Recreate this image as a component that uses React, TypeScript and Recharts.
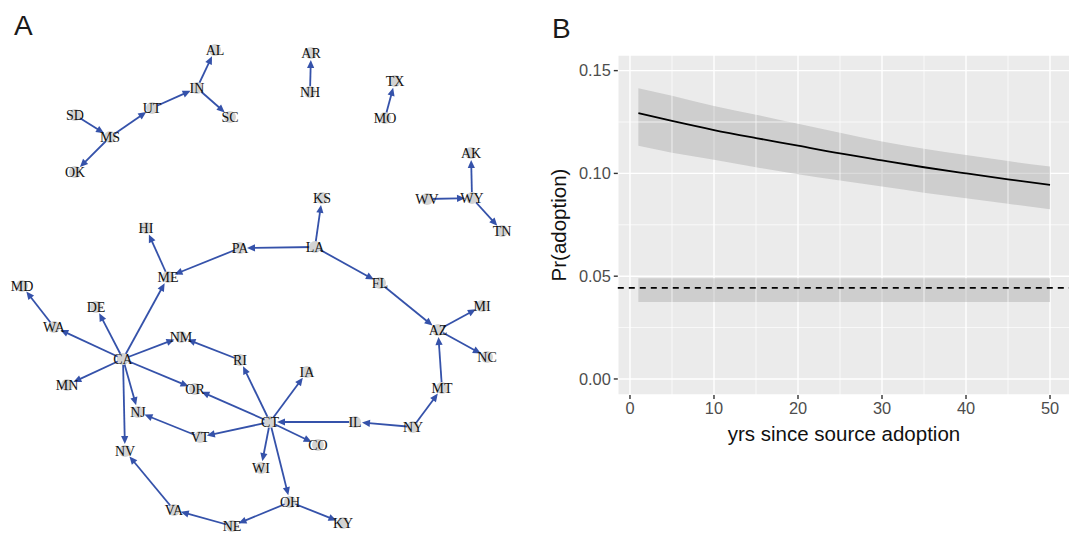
import React from 'react';
import {
  ScatterChart,
  Scatter,
  XAxis,
  YAxis,
  ReferenceLine,
  ReferenceArea,
  ComposedChart,
  Area,
  Line,
  CartesianGrid,
} from 'recharts';

// ---- Panel A: diffusion network (layout coordinates) ----
const states = [
  'AL', 'IN', 'SC', 'UT', 'SD', 'MS', 'OK', 'AR', 'NH', 'TX', 'MO', 'AK', 'WV', 'WY', 'TN', 'KS',
  'LA', 'PA', 'HI', 'ME', 'MD', 'DE', 'WA', 'NM', 'CA', 'RI', 'MN', 'OR', 'IA', 'FL', 'AZ', 'MI',
  'NC', 'MT', 'NY', 'IL', 'CT', 'NJ', 'VT', 'CO', 'WI', 'NV', 'OH', 'VA', 'NE', 'KY',
];
const layoutX = [
  215, 197, 230, 152, 75, 110, 75, 311, 310, 395, 385, 471, 427, 472, 502, 322,
  315, 240, 146, 168, 22, 96, 54, 181, 123, 240, 67, 195, 307, 380, 438, 482,
  487, 442, 413, 355, 270, 138, 200, 318, 261, 125, 290, 174, 232, 343,
];
const layoutY = [
  50, 88, 117, 108, 115, 137, 172, 53, 92, 81, 118, 153, 199, 198, 231, 198,
  247, 248, 228, 277, 286, 307, 327, 337, 359, 360, 385, 389, 372, 283, 330, 306,
  357, 388, 427, 422, 422, 412, 437, 445, 468, 451, 502, 510, 526, 523,
];
// source -> target (arrow points at target)
const edgeFrom = [
  'IN', 'UT', 'IN', 'MS', 'SD', 'MS', 'NH', 'MO', 'WY', 'WV', 'WY', 'LA', 'LA', 'LA', 'FL', 'AZ',
  'AZ', 'MT', 'NY', 'NY', 'IL', 'CT', 'CT', 'CT', 'CT', 'CT', 'CT', 'CT', 'OH', 'OH', 'NE', 'VA',
  'VT', 'RI', 'PA', 'ME', 'CA', 'CA', 'CA', 'WA', 'CA', 'CA', 'CA', 'CA', 'CA',
];
const edgeTo = [
  'AL', 'IN', 'SC', 'UT', 'MS', 'OK', 'AR', 'TX', 'AK', 'WY', 'TN', 'KS', 'PA', 'FL', 'AZ', 'MI',
  'NC', 'AZ', 'MT', 'IL', 'CT', 'IA', 'RI', 'OR', 'VT', 'CO', 'WI', 'OH', 'KY', 'NE', 'VA', 'NV',
  'NJ', 'NM', 'ME', 'HI', 'ME', 'DE', 'WA', 'MD', 'MN', 'NJ', 'NV', 'OR', 'NM',
];

// ---- Panel B: predicted probability of adoption ----
const years = [1, 5, 10, 15, 20, 25, 30, 35, 40, 45, 50];
const fitted = [0.1293, 0.1255, 0.1211, 0.1172, 0.1135, 0.1097, 0.1063, 0.103, 0.1, 0.0971, 0.0944];
const upperCI = [0.1414, 0.1378, 0.1328, 0.1285, 0.1241, 0.1198, 0.1155, 0.112, 0.109, 0.106, 0.1033];
const lowerCI = [0.1134, 0.11, 0.1066, 0.103, 0.0996, 0.0965, 0.0936, 0.0906, 0.0879, 0.0852, 0.0826];
const baseline = 0.0443;
const baselineLow = 0.0375;
const baselineHigh = 0.049;
const xTicks = [0, 10, 20, 30, 40, 50];
const xMinor = [5, 15, 25, 35, 45];
const yTicks = [0, 0.05, 0.1, 0.15];
const yMinor = [0.025, 0.075, 0.125];

const EDGE = '#3552AA';

const nodes = states.map((s, i) => ({ name: s, x: layoutX[i], y: layoutY[i] }));
const nodeByName: Record<string, { x: number; y: number }> = {};
nodes.forEach((n) => (nodeByName[n.name] = n));

const rows = years.map((t, i) => ({ t, fit: fitted[i], band: [lowerCI[i], upperCI[i]] }));

// Edge with an arrowhead that stops just short of the target node
const Arrow = (p: any) => {
  const { x1, y1, x2, y2 } = p;
  const dx = x2 - x1;
  const dy = y2 - y1;
  const len = Math.sqrt(dx * dx + dy * dy) || 1;
  const ux = dx / len;
  const uy = dy / len;
  const tipGap = 7;
  const headLen = 8;
  const headHalf = 3.6;
  const tx = x2 - ux * tipGap;
  const ty = y2 - uy * tipGap;
  const bx = tx - ux * headLen;
  const by = ty - uy * headLen;
  const px = -uy * headHalf;
  const py = ux * headHalf;
  return (
    <g>
      <line x1={x1} y1={y1} x2={bx + ux} y2={by + uy} stroke={EDGE} strokeWidth={1.8} />
      <polygon points={`${tx},${ty} ${bx + px},${by + py} ${bx - px},${by - py}`} fill={EDGE} />
    </g>
  );
};

const NodeDot = (p: any) => <circle cx={p.cx} cy={p.cy} r={6} fill="#D3D3D3" />;
const NodeLabel = (p: any) => (
  <text
    x={p.cx}
    y={p.cy}
    dy="0.36em"
    textAnchor="middle"
    fontFamily="'Liberation Serif', 'Times New Roman', serif"
    fontSize={14}
    fill="#111"
  >
    {p.payload.name}
  </text>
);

export default function App() {
  return (
    <div
      style={{
        position: 'absolute',
        left: 0,
        top: 0,
        width: 1069,
        height: 535,
        overflow: 'hidden',
        background: '#fff',
        fontFamily: "'Liberation Sans', Arial, sans-serif",
      }}
    >
      <div style={{ position: 'absolute', left: 0, top: 0 }}>
        <ScatterChart width={540} height={535} margin={{ top: 0, right: 0, bottom: 0, left: 0 }}>
          <XAxis type="number" dataKey="x" domain={[0, 540]} hide allowDataOverflow />
          <YAxis type="number" dataKey="y" domain={[0, 535]} reversed hide allowDataOverflow />
          <Scatter data={nodes} shape={NodeDot} isAnimationActive={false} />
          {edgeFrom.map((f, i) => {
            const a = nodeByName[f];
            const b = nodeByName[edgeTo[i]];
            return (
              <ReferenceLine
                key={`e${i}`}
                segment={[
                  { x: a.x, y: a.y },
                  { x: b.x, y: b.y },
                ]}
                ifOverflow="visible"
                shape={Arrow}
              />
            );
          })}
          <Scatter data={nodes} shape={NodeLabel} isAnimationActive={false} />
        </ScatterChart>
      </div>

      <div style={{ position: 'absolute', left: 540, top: 0 }}>
        <ComposedChart width={540} height={535} data={rows} margin={{ top: 55, right: 9.4, bottom: 0, left: 0 }}>
          <CartesianGrid fill="#EBEBEB" stroke="#FFFFFF" strokeWidth={1.4} />
          {xMinor.map((v) => (
            <ReferenceLine key={`xm${v}`} x={v} stroke="#FFFFFF" strokeWidth={0.7} />
          ))}
          {yMinor.map((v) => (
            <ReferenceLine key={`ym${v}`} y={v} stroke="#FFFFFF" strokeWidth={0.7} />
          ))}
          <XAxis
            type="number"
            dataKey="t"
            domain={[-1.45, 52.45]}
            ticks={xTicks}
            allowDataOverflow
            height={140}
            axisLine={false}
            tickSize={4}
            tickMargin={3}
            tickLine={{ stroke: '#333', strokeWidth: 1.4 }}
            tick={{ fill: '#4D4D4D', fontSize: 16.4 }}
            interval={0}
          />
          <YAxis
            type="number"
            domain={[-0.0078, 0.1576]}
            ticks={yTicks}
            allowDataOverflow
            width={77.8}
            axisLine={false}
            tickSize={4}
            tickMargin={3}
            tickLine={{ stroke: '#333', strokeWidth: 1.4 }}
            tick={{ fill: '#4D4D4D', fontSize: 16.4 }}
            tickFormatter={(v: number) => v.toFixed(2)}
            interval={0}
          />
          <ReferenceArea
            x1={years[0]}
            x2={years[years.length - 1]}
            y1={baselineLow}
            y2={baselineHigh}
            fill="#999999"
            fillOpacity={0.35}
            stroke="none"
          />
          <ReferenceLine y={baseline} stroke="#000" strokeWidth={1.6} strokeDasharray="6 5" />
          <Area
            dataKey="band"
            type="monotone"
            fill="#999999"
            fillOpacity={0.35}
            stroke="none"
            isAnimationActive={false}
          />
          <Line dataKey="fit" type="monotone" stroke="#000" strokeWidth={1.8} dot={false} isAnimationActive={false} />
        </ComposedChart>
      </div>

      <svg
        width={1069}
        height={535}
        style={{ position: 'absolute', left: 0, top: 0, pointerEvents: 'none' }}
        fontFamily="'Liberation Sans', Arial, sans-serif"
      >
        <text x={14} y={35} fontSize={28} fill="#1a1a1a">A</text>
        <text x={552} y={38} fontSize={28} fill="#1a1a1a">B</text>
        <text x={844} y={441} fontSize={20.5} textAnchor="middle" fill="#111">
          yrs since source adoption
        </text>
        <text
          x={566}
          y={225}
          fontSize={20.5}
          textAnchor="middle"
          fill="#111"
          transform="rotate(-90 566 225)"
        >
          Pr(adoption)
        </text>
      </svg>
    </div>
  );
}
